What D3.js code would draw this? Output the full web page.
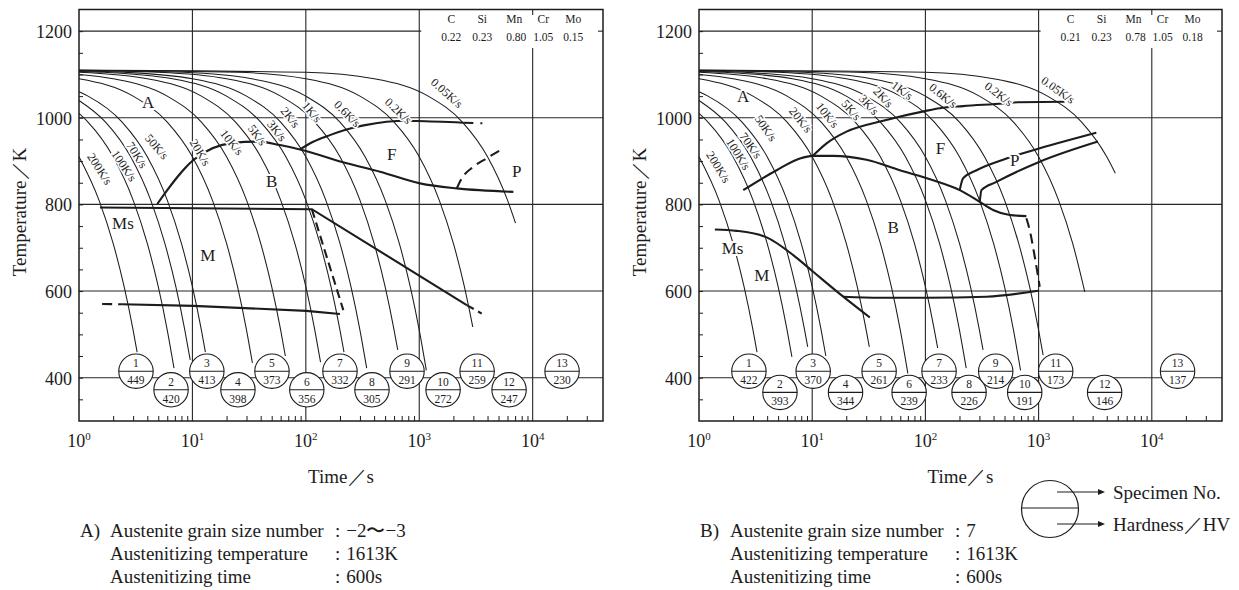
<!DOCTYPE html>
<html><head><meta charset="utf-8">
<script src="https://cdn.jsdelivr.net/npm/d3@7/dist/d3.min.js"></script>
<style>
body{margin:0;background:#fff}
svg{display:block}
</style></head><body>
<svg id="chart" width="1239" height="590" font-family="'Liberation Serif', 'DejaVu Serif', serif"></svg>
<script>
// ---------------- DATA ----------------
const rateLabels = ["200K/s","100K/s","70K/s","50K/s","20K/s","10K/s","5K/s","3K/s","2K/s","1K/s","0.6K/s","0.2K/s","0.05K/s"];

// cooling curves: [time s, temperature K]
const coolingA = [
  [[1,910],[1.5,810],[2,710],[2.5,610],[3,510],[3.255,459]],
  [[1,1010],[1.2,990],[2,910],[3,810],[4,710],[5,610],[6,510],[6.88,422]],
  [[1,1040],[1.714,990],[2.857,910],[4.286,810],[5.714,710],[7.143,610],[8.571,510],[9.56,441]],
  [[1,1060],[1.2,1050],[2.4,990],[4,910],[6,810],[8,710],[10,610],[12,510],[13.02,459]],
  [[1,1090],[3,1050],[6,990],[10,910],[15,810],[20,710],[25,610],[30,510],[33.8,434]],
  [[1,1100],[2,1090],[6,1050],[12,990],[20,910],[30,810],[40,710],[50,610],[60,510],[66,450]],
  [[1,1105],[4,1090],[12,1050],[24,990],[40,910],[60,810],[80,710],[100,610],[120,510],[134.8,436]],
  [[1,1107],[1.667,1105],[6.667,1090],[20,1050],[40,990],[66.67,910],[100,810],[133.3,710],[166.7,610],[200,510],[217,459]],
  [[1,1108],[2.5,1105],[10,1090],[30,1050],[60,990],[100,910],[150,810],[200,710],[250,610],[300,510],[344,422]],
  [[1,1109],[5,1105],[20,1090],[60,1050],[120,990],[200,910],[300,810],[400,710],[500,610],[600,510],[646,464]],
  [[1,1109.4],[8.33,1105],[33.3,1090],[100,1050],[200,990],[333,910],[500,810],[667,710],[833,610],[1000,510],[1155,417]],
  [[1,1109.8],[25,1105],[100,1090],[300,1050],[600,990],[1000,910],[1500,810],[2000,710],[2500,610],[2965,517]],
  [[1,1110],[100,1105],[400,1090],[1200,1050],[2400,990],[4000,910],[6000,810],[7060,757]]
];
const coolingB = [
  [[1,910],[1.5,810],[2,710],[2.5,610],[3,510],[3.255,459]],
  [[1,1010],[1.2,990],[2,910],[3,810],[4,710],[5,610],[6,510],[6.62,448]],
  [[1,1040],[1.714,990],[2.857,910],[4.286,810],[5.714,710],[7.143,610],[8.571,510],[9.13,471]],
  [[1,1060],[1.2,1050],[2.4,990],[4,910],[6,810],[8,710],[10,610],[12,510],[13.2,450]],
  [[1,1090],[3,1050],[6,990],[10,910],[15,810],[20,710],[25,610],[30,510],[31.95,471]],
  [[1,1100],[2,1090],[6,1050],[12,990],[20,910],[30,810],[40,710],[50,610],[60,510],[70,410]],
  [[1,1105],[4,1090],[12,1050],[24,990],[40,910],[60,810],[80,710],[100,610],[120,510],[128.3,468.5]],
  [[1,1107],[1.667,1105],[6.667,1090],[20,1050],[40,990],[66.67,910],[100,810],[133.3,710],[166.7,610],[200,510],[229.3,422]],
  [[1,1108],[2.5,1105],[10,1090],[30,1050],[60,990],[100,910],[150,810],[200,710],[250,610],[300,510],[323,464]],
  [[1,1109],[5,1105],[20,1090],[60,1050],[120,990],[200,910],[300,810],[400,710],[500,610],[600,510],[693,417]],
  [[1,1109.4],[8.33,1105],[33.3,1090],[100,1050],[200,990],[333,910],[500,810],[667,710],[833,610],[1000,510],[1097,452]],
  [[1,1109.8],[25,1105],[100,1090],[300,1050],[600,990],[1000,910],[1500,810],[2000,710],[2560,598]],
  [[1,1110],[100,1105],[400,1090],[1200,1050],[2400,990],[4000,910],[4760,872]]
];

// transformation lines A
const msLineA      = [[1.53,793],[113,789],[2624,567.6]];
const msDashA      = [[2624,567.6],[3556,548]];
const steepDashA   = [[113,789],[214,556]];
const lowerDashA   = [[1.6,570],[2.4,569.5]];
const lowerLineA   = [[2.4,569.5],[10.2,565.8],[101,554.3],[200,547]];
const bainiteA     = [[4.9,801],[10.2,902.4],[22.8,942],[37.9,945],[59.2,937],[88.9,927],[229.6,895],[451,875.4],[1016,848.6],[2142,837],[6760,829]];
const ferriteA     = [[88.9,927],[116,944.7],[163,960],[272,978],[333,983],[776,993],[951,992.5],[2449,988.6]];
const ferriteDashA = [[2449,988.6],[3937,987]];
const pearliteA    = [[2142,837],[2371,860],[3001,887],[3937,906.5],[5520,929.5]];

// transformation lines B
const msLineB      = [[1.38,742],[2.15,739],[3.96,724],[6.8,683],[10.2,644.5],[18.8,587],[32.3,539]];
const bfLineB      = [[18.8,587],[39.6,584.4],[102,584.4],[346,587],[988,600.6]];
const bainiteB     = [[2.46,833],[4.85,879],[7.79,906],[10.1,912],[15.3,912],[30.2,903],[59.4,879],[117,856],[201,833],[302,806],[396,787],[556,775.4],[780,773]];
const ferriteB     = [[10.1,912],[13.4,941],[20.1,968],[42.4,993],[101,1016],[134,1022],[215,1027],[485,1033],[658,1036],[1698,1037]];
const pearliteUpB  = [[201,833],[215,860],[283,879],[520,906],[1023,929.5],[3236,965.5]];
const pearliteLoB  = [[302,806],[313,833],[424,852],[1023,898.5],[3343,945]];
const dashB        = [[780,768],[834,741],[925,679],[1023,610]];

// specimens
const specimenNo = [1,2,3,4,5,6,7,8,9,10,11,12,13];
const specimenTimeA = [3.18,6.48,13.4,25.2,50.3,102,200,383,780,1622,3236,6194,18170];
const specimenTimeB = [2.76,5.19,10.2,19.7,39.0,71.8,132,243,418,754,1416,3831,16890];
const hardnessA = [449,420,413,398,373,356,332,305,291,272,259,247,230];
const hardnessB = [422,393,370,344,261,239,233,226,214,191,173,146,137];

// composition
const elements = ["C","Si","Mn","Cr","Mo"];
const compositionA = ["0.22","0.23","0.80","1.05","0.15"];
const compositionB = ["0.21","0.23","0.78","1.05","0.18"];

// axes
const tempTicks = [400,600,800,1000,1200];
const timeDecades = [0,1,2,3,4];

// captions
const captionLabels = ["Austenite grain size number","Austenitizing temperature","Austenitizing time"];
const captionValuesA = ["−2〜−3","1613K","600s"];
const captionValuesB = ["7","1613K","600s"];

// ---------------- LAYOUT ----------------
const svg = d3.select("#chart");
const TIME_MAX = 41700;
const INK = "#1c1c1c";
const SERIF = "'Liberation Serif', 'DejaVu Serif', serif";

const layoutA = {
  x0:79, x1:603, dx:0, prefix:"A)",
  rateLabelPos:[[1.52,882,57],[2.49,889,56],[3.23,914,58],[4.84,933,49],[11.67,920,59],[22.2,943,51],[37.3,960,53],[55.4,970,52],[72.6,1001,52],[112.7,1013,50],[232,1009,45],[654,1016,43],[1749,1057,42]],
  regions:[["A",4.06,1036],["B",50,852],["F",572,916],["P",7244,876],["Ms",2.44,757],["M",13.7,681]],
  lowT:372
};
const layoutB = {
  x0:699, x1:1222, dx:620, prefix:"B)",
  rateLabelPos:[[1.48,886,58],[2.22,916,58],[2.86,936,54],[3.88,976,55],[7.9,995,51],[13.6,1006,51],[22.1,1018,49],[31.7,1030,47],[42.4,1047,47],[62.3,1063,36],[143,1051,39],[444,1055,37],[1483,1064,35]],
  regions:[["A",2.46,1049],["F",136,930],["P",615,901],["B",51.9,747],["Ms",1.98,699],["M",3.58,635]],
  lowT:366
};

function drawPanel(L, cooling, lines, times, hardness, comp, captionValues) {
  const g = svg.append("g").attr("font-family", SERIF).attr("fill", INK);
  const x = d3.scaleLog().domain([1, TIME_MAX]).range([L.x0, L.x1]);
  const y = d3.scaleLinear().domain([300, 1250]).range([421, 9.5]);
  const yTop = y.range()[1], yBot = y.range()[0];

  // grid
  const grid = g.append("g").attr("stroke", "#262626").attr("stroke-width", 1.1);
  [400,600,800,1000].forEach(T => grid.append("line").attr("x1",L.x0).attr("x2",L.x1).attr("y1",y(T)).attr("y2",y(T)));
  grid.append("line").attr("x1",L.x0).attr("x2",x(1000)+2).attr("y1",y(1200)).attr("y2",y(1200));
  grid.append("line").attr("x1",L.x1-5).attr("x2",L.x1).attr("y1",y(1200)).attr("y2",y(1200));
  [10,100,1000].forEach(t => grid.append("line").attr("x1",x(t)).attr("x2",x(t)).attr("y1",yTop).attr("y2",yBot));
  grid.append("line").attr("x1",x(1e4)).attr("x2",x(1e4)).attr("y1",48).attr("y2",yBot);
  grid.append("line").attr("x1",x(1e4)).attr("x2",x(1e4)).attr("y1",yTop).attr("y2",15);

  // minor ticks via d3 axes (inward)
  const minor = [];
  timeDecades.forEach(d => { for (let k=2;k<=9;k++){ const v=k*Math.pow(10,d); if (v<35000) minor.push(v);} });
  const ax = g.append("g").attr("transform",`translate(0,${yBot})`)
    .call(d3.axisBottom(x).tickValues(minor).tickSizeInner(-5).tickSizeOuter(0).tickFormat(""));
  ax.select(".domain").remove();
  ax.selectAll("line").attr("stroke",INK).attr("stroke-width",1);
  const ay = g.append("g").attr("transform",`translate(${L.x0},0)`)
    .call(d3.axisLeft(y).tickValues(d3.range(350,1250,50)).tickSizeInner(-4).tickSizeOuter(0).tickFormat(""));
  ay.select(".domain").remove();
  ay.selectAll("line").attr("stroke",INK).attr("stroke-width",1);

  // cooling curves
  const line = d3.line().x(d => x(d[0])).y(d => y(d[1])).curve(d3.curveMonotoneX);
  const lin = d3.line().x(d => x(d[0])).y(d => y(d[1]));
  g.append("g").selectAll("path").data(cooling).join("path")
    .attr("d", line).attr("fill","none").attr("stroke",INK).attr("stroke-width",1.05);

  // transformation lines
  lines.forEach(l => {
    g.append("path").attr("d", (l.curve ? line : lin)(l.pts)).attr("fill","none")
      .attr("stroke",INK).attr("stroke-width",2.1)
      .attr("stroke-dasharray", l.dash || null);
  });

  const txt = (sel) => sel.attr("font-family", SERIF).attr("fill", INK);

  // rate labels
  txt(g.append("g").selectAll("text").data(rateLabels).join("text"))
    .attr("transform",(d,i)=>`translate(${x(L.rateLabelPos[i][0])},${y(L.rateLabelPos[i][1])}) rotate(${L.rateLabelPos[i][2]})`)
    .attr("text-anchor","middle").attr("dominant-baseline","central")
    .attr("font-size",12).attr("stroke","#fff").attr("stroke-width",3).attr("paint-order","stroke")
    .text(d => d);

  // region labels
  txt(g.append("g").selectAll("text").data(L.regions).join("text"))
    .attr("x",d=>x(d[1])).attr("y",d=>y(d[2]))
    .attr("text-anchor","middle").attr("dominant-baseline","central")
    .attr("font-size",17).attr("stroke","#fff").attr("stroke-width",4).attr("paint-order","stroke")
    .text(d=>d[0]);

  // composition table
  const cx0 = x(1000);
  const colOff = [32,63,95,124,154];
  elements.forEach((e,i)=>{
    txt(g.append("text")).attr("x",cx0+colOff[i]).attr("y",18.5).attr("text-anchor","middle")
      .attr("dominant-baseline","central").attr("font-size",11.5).text(e);
    txt(g.append("text")).attr("x",cx0+colOff[i]+(i===2?2:0)).attr("y",36.5).attr("text-anchor","middle")
      .attr("dominant-baseline","central").attr("font-size",11.5).text(comp[i]);
  });

  // specimen circles
  const sp = g.append("g").selectAll("g").data(specimenNo).join("g")
    .attr("transform",(d,i)=>`translate(${x(times[i])},${i%2===0 ? y(415) : y(L.lowT)})`);
  sp.append("circle").attr("r",17.2).attr("fill","#fff").attr("stroke",INK).attr("stroke-width",1.1);
  sp.append("line").attr("x1",-17.2).attr("x2",17.2).attr("stroke",INK).attr("stroke-width",1.1);
  txt(sp.append("text")).attr("y",-8.3).attr("text-anchor","middle").attr("dominant-baseline","central").attr("font-size",11.5).text(d=>d);
  txt(sp.append("text")).attr("y",8.8).attr("text-anchor","middle").attr("dominant-baseline","central").attr("font-size",11.5).text((d,i)=>hardness[i]);

  // frame
  g.append("rect").attr("x",L.x0).attr("y",yTop).attr("width",L.x1-L.x0).attr("height",yBot-yTop)
    .attr("fill","none").attr("stroke",INK).attr("stroke-width",1.5);

  // tick labels
  txt(g.append("g").selectAll("text").data(tempTicks).join("text"))
    .attr("x",L.x0-7).attr("y",d=>y(d)+1).attr("text-anchor","end").attr("dominant-baseline","central")
    .attr("font-size",18).text(d=>d);
  const xl = txt(g.append("g").selectAll("text").data(timeDecades).join("text"))
    .attr("x",d=>x(Math.pow(10,d))).attr("y",447).attr("text-anchor","middle").attr("font-size",18);
  xl.append("tspan").text("10");
  xl.append("tspan").attr("dy",-7).attr("font-size",11).text(d=>d);

  // axis titles
  txt(g.append("text")).attr("x",(L.x0+L.x1)/2).attr("y",483).attr("text-anchor","middle").attr("font-size",19).text("Time／s");
  txt(g.append("text")).attr("transform",`translate(${19+L.dx},212) rotate(-90)`).attr("text-anchor","middle")
    .attr("dominant-baseline","central").attr("font-size",19).text("Temperature／K");

  // caption
  const base = [537,560,583];
  txt(g.append("text")).attr("x",80+L.dx).attr("y",base[0]).attr("font-size",19).text(L.prefix);
  captionLabels.forEach((t,i)=>{
    txt(g.append("text")).attr("x",110+L.dx).attr("y",base[i]).attr("font-size",19).text(t);
    const v = txt(g.append("text")).attr("x",335+L.dx).attr("y",base[i]).attr("font-size",19);
    v.append("tspan").text(":");
    v.append("tspan").attr("dx",6).text(captionValues[i]);
  });
}

drawPanel(layoutA, coolingA, [
  {pts:msLineA},{pts:msDashA,dash:"8,5"},{pts:steepDashA,dash:"9,5"},
  {pts:lowerDashA,dash:"10,6"},{pts:lowerLineA},
  {pts:bainiteA,curve:true},{pts:ferriteA,curve:true},{pts:ferriteDashA,dash:"10,7,2,7"},
  {pts:pearliteA,curve:true,dash:"10,6"}
], specimenTimeA, hardnessA, compositionA, captionValuesA);

drawPanel(layoutB, coolingB, [
  {pts:msLineB,curve:true},{pts:bfLineB,curve:true},{pts:bainiteB,curve:true},
  {pts:ferriteB,curve:true},{pts:pearliteUpB,curve:true},{pts:pearliteLoB,curve:true},
  {pts:dashB,curve:true,dash:"10,6"}
], specimenTimeB, hardnessB, compositionB, captionValuesB);

// legend
const lg = svg.append("g").attr("font-family", SERIF);
lg.append("circle").attr("cx",1050).attr("cy",509).attr("r",28.5).attr("fill","none").attr("stroke",INK).attr("stroke-width",1.2);
lg.append("line").attr("x1",1021.5).attr("x2",1078.5).attr("y1",508).attr("y2",508).attr("stroke",INK).attr("stroke-width",1.2);
[[492,"Specimen No."],[524,"Hardness／HV"]].forEach(([yy,t])=>{
  lg.append("line").attr("x1",1057).attr("x2",1099).attr("y1",yy).attr("y2",yy).attr("stroke",INK).attr("stroke-width",1.2);
  lg.append("path").attr("d",`M1098,${yy-3}L1105,${yy}L1098,${yy+3}Z`).attr("fill",INK);
  lg.append("text").attr("x",1113).attr("y",yy).attr("dominant-baseline","central").attr("font-size",19).attr("fill",INK).text(t);
});
</script>
</body></html>
